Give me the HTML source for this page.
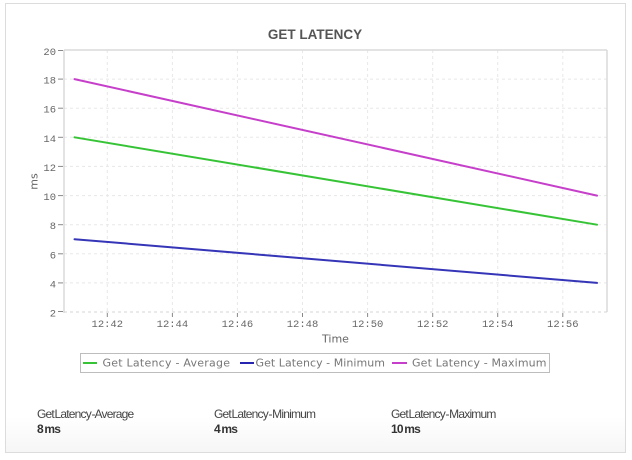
<!DOCTYPE html>
<html><head><meta charset="utf-8"><style>
html,body{margin:0;padding:0;background:#fff;}
body{width:632px;height:460px;position:relative;overflow:hidden;}
#box{position:absolute;left:5px;top:3px;width:619px;height:448px;border:1px solid #dcdcdc;background:linear-gradient(to bottom,#fff 0%,#fff 92%,#f6f6f6 100%);}
svg{position:absolute;left:0;top:0;}
.st{position:absolute;font-family:"Liberation Sans",Arial,sans-serif;font-size:12px;letter-spacing:-0.8px;word-spacing:-2px;color:#444;white-space:nowrap;}
.sv{position:absolute;font-family:"Liberation Sans",Arial,sans-serif;font-size:12px;font-weight:bold;letter-spacing:-0.8px;word-spacing:-1px;color:#333;white-space:nowrap;}
</style></head><body>
<div id="box"></div>
<svg width="632" height="460" viewBox="0 0 632 460" xmlns="http://www.w3.org/2000/svg">
<text x="315" y="39" text-anchor="middle" font-family="Liberation Sans, Arial, sans-serif" font-size="13.5" font-weight="bold" fill="#555">GET LATENCY</text>
<g stroke="#e8e8e8" stroke-width="1" stroke-dasharray="3,3" fill="none">
<line x1="64" y1="79.1" x2="607" y2="79.1"/>
<line x1="64" y1="108.2" x2="607" y2="108.2"/>
<line x1="64" y1="137.3" x2="607" y2="137.3"/>
<line x1="64" y1="166.4" x2="607" y2="166.4"/>
<line x1="64" y1="195.6" x2="607" y2="195.6"/>
<line x1="64" y1="224.7" x2="607" y2="224.7"/>
<line x1="64" y1="253.8" x2="607" y2="253.8"/>
<line x1="64" y1="282.9" x2="607" y2="282.9"/>
<line x1="107.3" y1="50" x2="107.3" y2="312"/>
<line x1="172.4" y1="50" x2="172.4" y2="312"/>
<line x1="237.4" y1="50" x2="237.4" y2="312"/>
<line x1="302.5" y1="50" x2="302.5" y2="312"/>
<line x1="367.6" y1="50" x2="367.6" y2="312"/>
<line x1="432.7" y1="50" x2="432.7" y2="312"/>
<line x1="497.7" y1="50" x2="497.7" y2="312"/>
<line x1="562.8" y1="50" x2="562.8" y2="312"/>
<line x1="64" y1="312" x2="607" y2="312" stroke="#d4d4d4"/>
</g>
<g stroke="#dadada" stroke-width="1.5" fill="none">
<line x1="64" y1="50" x2="607" y2="50"/>
<line x1="607" y1="50" x2="607" y2="312"/>
<line x1="64" y1="50" x2="64" y2="313"/>
</g>
<g stroke="#888" stroke-width="1">
<line x1="58" y1="50.5" x2="63" y2="50.5"/>
<line x1="58" y1="79.1" x2="63" y2="79.1"/>
<line x1="58" y1="108.2" x2="63" y2="108.2"/>
<line x1="58" y1="137.3" x2="63" y2="137.3"/>
<line x1="58" y1="166.4" x2="63" y2="166.4"/>
<line x1="58" y1="195.6" x2="63" y2="195.6"/>
<line x1="58" y1="224.7" x2="63" y2="224.7"/>
<line x1="58" y1="253.8" x2="63" y2="253.8"/>
<line x1="58" y1="282.9" x2="63" y2="282.9"/>
<line x1="58" y1="311.5" x2="63" y2="311.5"/>
<line x1="107.3" y1="313" x2="107.3" y2="317"/>
<line x1="172.4" y1="313" x2="172.4" y2="317"/>
<line x1="237.4" y1="313" x2="237.4" y2="317"/>
<line x1="302.5" y1="313" x2="302.5" y2="317"/>
<line x1="367.6" y1="313" x2="367.6" y2="317"/>
<line x1="432.7" y1="313" x2="432.7" y2="317"/>
<line x1="497.7" y1="313" x2="497.7" y2="317"/>
<line x1="562.8" y1="313" x2="562.8" y2="317"/>
</g>
<g font-family="Liberation Mono, Courier New, monospace" font-size="10.5" fill="#666" text-anchor="end">
<text x="56" y="55">20</text>
<text x="56" y="83.6">18</text>
<text x="56" y="112.7">16</text>
<text x="56" y="141.8">14</text>
<text x="56" y="170.9">12</text>
<text x="56" y="200.1">10</text>
<text x="56" y="229.2">8</text>
<text x="56" y="258.3">6</text>
<text x="56" y="287.4">4</text>
<text x="56" y="316.5">2</text>
</g>
<g font-family="Liberation Mono, Courier New, monospace" font-size="10.5" fill="#666" text-anchor="middle">
<text x="107.3" y="327">12:42</text>
<text x="172.4" y="327">12:44</text>
<text x="237.4" y="327">12:46</text>
<text x="302.5" y="327">12:48</text>
<text x="367.6" y="327">12:50</text>
<text x="432.7" y="327">12:52</text>
<text x="497.7" y="327">12:54</text>
<text x="562.8" y="327">12:56</text>
</g>
<text x="335.5" y="342.5" text-anchor="middle" font-family="DejaVu Sans, sans-serif" font-size="11" fill="#666">Time</text>
<text transform="translate(37.5,181.5) rotate(-90)" text-anchor="middle" font-family="DejaVu Sans, sans-serif" font-size="11" fill="#666">ms</text>
<g fill="none" stroke-width="2" stroke-linecap="round">
<line x1="74.5" y1="79.1" x2="597" y2="195.6" stroke="#c63fca"/>
<line x1="74.5" y1="137.3" x2="597" y2="224.7" stroke="#36c436"/>
<line x1="74.5" y1="239.2" x2="597" y2="282.9" stroke="#3535b8"/>
</g>
<rect x="80.5" y="353.5" width="469" height="19" fill="#fff" stroke="#bdbdbd" stroke-width="1"/>
<g stroke-width="2">
<line x1="83" y1="363" x2="97" y2="363" stroke="#36c436"/>
<line x1="240" y1="363" x2="254" y2="363" stroke="#2525b0"/>
<line x1="392" y1="363" x2="407" y2="363" stroke="#c63fca"/>
</g>
<g font-family="DejaVu Sans, sans-serif" font-size="11" fill="#777">
<text x="102.5" y="366.5" textLength="127.5" lengthAdjust="spacing">Get Latency - Average</text>
<text x="255.5" y="366.5" textLength="129.5" lengthAdjust="spacing">Get Latency - Minimum</text>
<text x="412" y="366.5" textLength="134.5" lengthAdjust="spacing">Get Latency - Maximum</text>
</g>
</svg>
<div class="st" style="left:37px;top:407px;">Get Latency - Average</div>
<div class="sv" style="left:37px;top:422px;">8 ms</div>
<div class="st" style="left:214px;top:407px;">Get Latency - Minimum</div>
<div class="sv" style="left:214px;top:422px;">4 ms</div>
<div class="st" style="left:391px;top:407px;">Get Latency - Maximum</div>
<div class="sv" style="left:391px;top:422px;">10 ms</div>
</body></html>
